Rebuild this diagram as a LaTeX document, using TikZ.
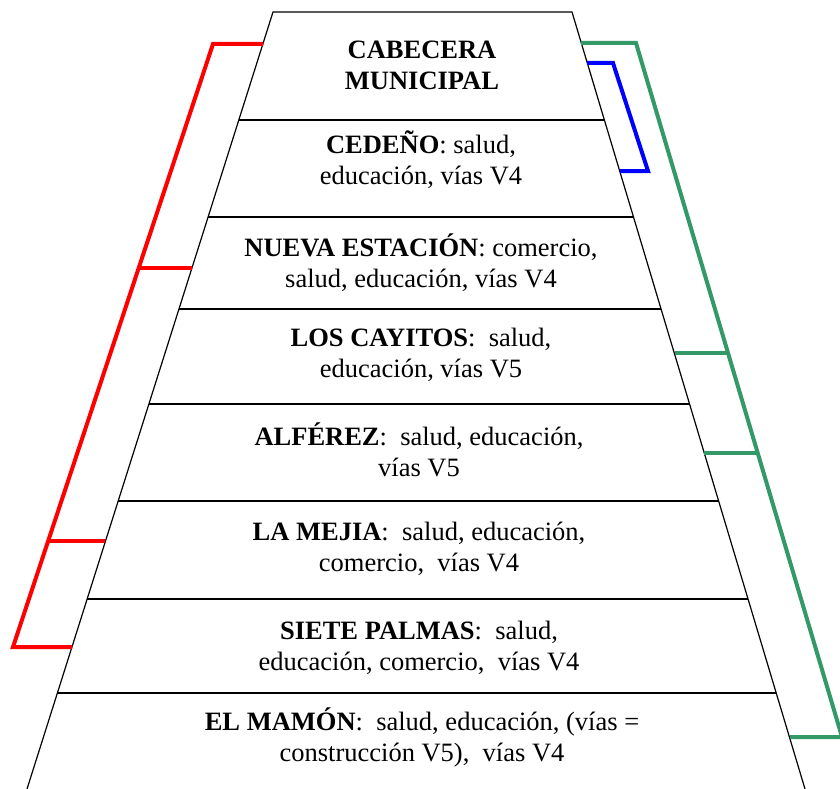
\documentclass[tikz,border=0pt]{standalone}
\usepackage{fontspec}
\setmainfont{Liberation Serif}
\usetikzlibrary{calc}
\definecolor{bracketgreen}{RGB}{51,153,102}
\tikzset{
  place/.style={align=center, anchor=base, font=\fontsize{26.5}{31}\selectfont},
  tier/.style={line width=1.2pt},
  bracket/.style={line width=4pt},
}
\begin{document}
\begin{tikzpicture}[x=1pt,y=-1pt]
\useasboundingbox (0,0) rectangle (840,789);
\coordinate (TL) at (273,12);
\coordinate (TR) at (572,12);
\coordinate (BL) at (27,789);
\coordinate (BR) at (805,789);

\draw[tier] (BL) -- (TL) -- (TR) -- (BR);
\foreach \t in {0.139,0.2638,0.3822,0.5045,0.6293,0.7555,0.8764}
  \draw[tier] ($(TL)!\t!(BL)$) -- ($(TR)!\t!(BR)$);

\node[place] (cabecera) at (422,90) {\textbf{CABECERA}\\\textbf{MUNICIPAL}};
\node[place] (cedeno) at (421,184) {\textbf{CEDEÑO}: salud,\\educación, vías V4};
\node[place] (estacion) at (421,287) {\textbf{NUEVA ESTACIÓN}: comercio,\\salud, educación, vías V4};
\node[place] (cayitos) at (421,377) {\textbf{LOS CAYITOS}:~ salud,\\educación, vías V5};
\node[place] (alferez) at (419,476) {\textbf{ALFÉREZ}:~ salud, educación,\\vías V5};
\node[place] (mejia) at (419,571) {\textbf{LA MEJIA}:~ salud, educación,\\comercio,~ vías V4};
\node[place] (palmas) at (419,670) {\textbf{SIETE PALMAS}:~ salud,\\educación, comercio,~ vías V4};
\node[place] (mamon) at (422,761) {\textbf{EL MAMÓN}:~ salud, educación, (vías =\\construcción V5),~ vías V4};

\coordinate (R1) at (263,44);
\coordinate (R2) at (213,44);
\coordinate (R3) at (13,647);
\coordinate (R4) at (72,647);
\coordinate (R5) at (139,268);
\coordinate (R6) at (192,268);
\coordinate (R7) at (48,541);
\coordinate (R8) at (105,541);
\coordinate (B1) at (587,63);
\coordinate (B2) at (613,63);
\coordinate (B3) at (648,171);
\coordinate (B4) at (620,171);
\coordinate (G1) at (581,43);
\coordinate (G2) at (636,43);
\coordinate (G3) at (842,737);
\coordinate (G4) at (790,737);
\coordinate (G5) at (675,353);
\coordinate (G6) at (728,353);
\coordinate (G7) at (704,453);
\coordinate (G8) at (757,453);

\draw[bracket, red] (R1) -- (R2) -- (R3) -- (R4);
\draw[bracket, red] (R5) -- (R6);
\draw[bracket, red] (R7) -- (R8);
\draw[bracket, blue] (B1) -- (B2) -- (B3) -- (B4);
\draw[bracket, bracketgreen] (G1) -- (G2) -- (G3) -- (G4);
\draw[bracket, bracketgreen] (G5) -- (G6);
\draw[bracket, bracketgreen] (G7) -- (G8);
\end{tikzpicture}
\end{document}
